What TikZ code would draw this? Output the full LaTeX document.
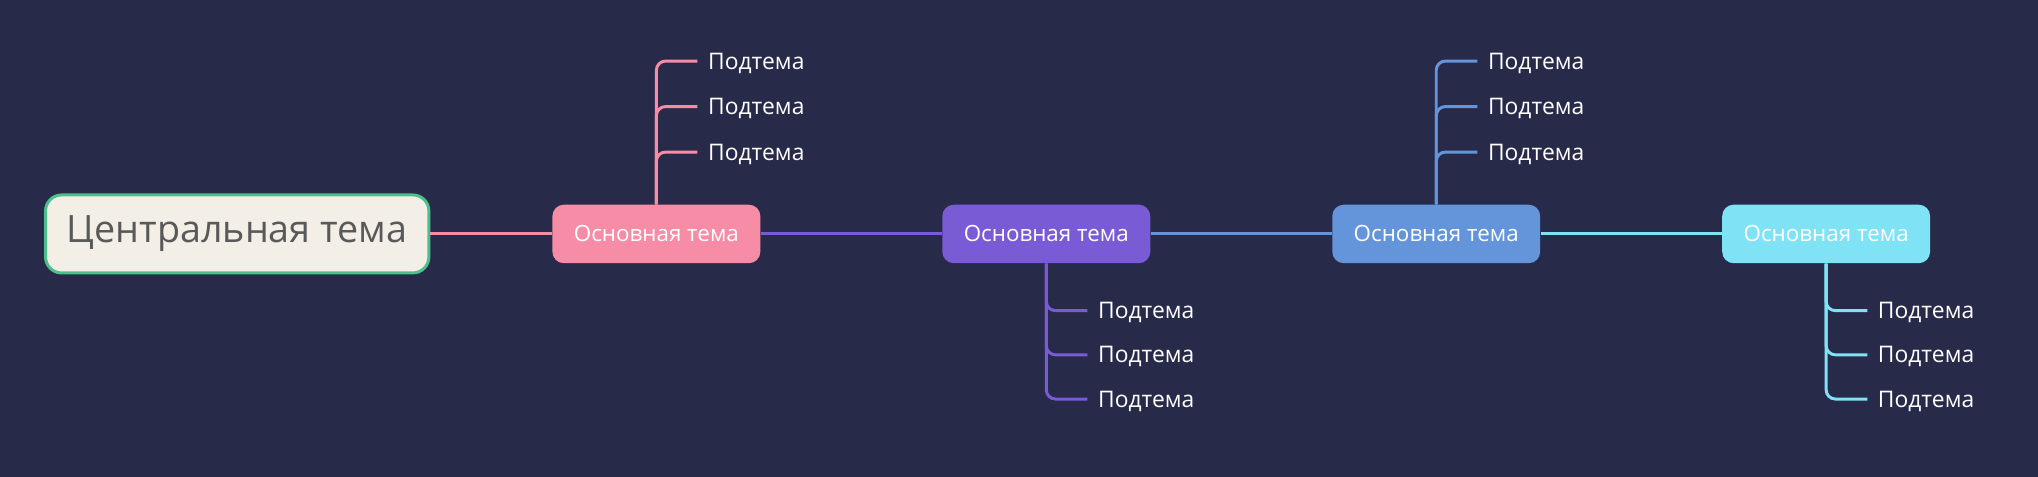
\documentclass[tikz,border=0pt]{standalone}
\usepackage{fontspec}
\setmainfont{Open Sans}
\definecolor{bg}{HTML}{282A4A}
\definecolor{cgreen}{HTML}{4CC08A}
\definecolor{cfill}{HTML}{F3EFE6}
\definecolor{cpink}{HTML}{F78CA6}
\definecolor{cpurple}{HTML}{7A5BD6}
\definecolor{cblue}{HTML}{6495DB}
\definecolor{ccyan}{HTML}{7FE3F5}
\begin{document}
\begin{tikzpicture}[x=0.02cm,y=-0.02cm,
  mainbox/.style={rounded corners=5pt,minimum width=3.2cm,minimum height=0.9cm,inner sep=0pt,text=white,font=\fontsize{9.8}{12}\selectfont},
  sub/.style={anchor=west,inner sep=2pt,text=white,font=\fontsize{10}{12}\selectfont},
  br/.style={line width=1.3pt,rounded corners=4pt}]
\fill[bg] (0,0) rectangle (1568,367);
\node[draw=cgreen,line width=1.3pt,fill=cfill,rounded corners=7pt,minimum width=5.9cm,minimum height=1.2cm,inner sep=0pt,text=black!65,font=\fontsize{16.5}{20}\selectfont] (c) at (182.5,180) {Центральная тема};
\node[mainbox,fill=cpink] (m1) at (505,180) {Основная тема};
\node[mainbox,fill=cpurple] (m2) at (805,180) {Основная тема};
\node[mainbox,fill=cblue] (m3) at (1105,180) {Основная тема};
\node[mainbox,fill=ccyan] (m4) at (1405,180) {Основная тема};
\draw[line width=1.3pt,cpink] (c.east) -- (m1.west);
\draw[line width=1.3pt,cpurple] (m1.east) -- (m2.west);
\draw[line width=1.3pt,cblue] (m2.east) -- (m3.west);
\draw[line width=1.3pt,ccyan] (m3.east) -- (m4.west);
\foreach \m/\x/\c/\ys/\s in {m1/505/cpink/{47,82,117}/north, m2/805/cpurple/{239,273,307}/south, m3/1105/cblue/{47,82,117}/north, m4/1405/ccyan/{239,273,307}/south}{
  \foreach \y [count=\i] in \ys {
    \node[sub] (\m s\i) at (\x+36,\y+1.5) {Подтема};
    \draw[br,\c] (\m.\s) -- (\x,\y) -- ([xshift=-2.5pt]\m s\i.west|-0,\y);
  }
}
\end{tikzpicture}
\end{document}
